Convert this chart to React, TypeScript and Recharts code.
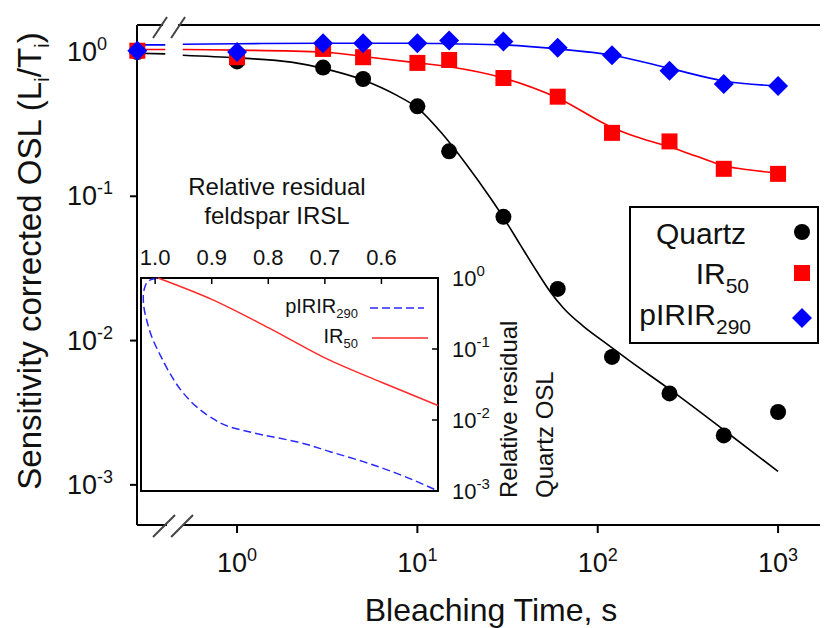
import React from "react";
import {
  ComposedChart,
  Line,
  Scatter,
  XAxis,
  YAxis,
  ReferenceLine,
  ReferenceArea,
} from "recharts";

const FONT = "'Liberation Sans', Arial, sans-serif";

// bleaching times (s); t = 0 is drawn at the axis break
const bleachTimes = [0, 1, 3, 5, 10, 15, 30, 60, 120, 250, 500, 1000];
const ZERO_AT = 0.28;

// measured points
const quartz = [1.0, 0.86, 0.78, 0.65, 0.42, 0.205, 0.072, 0.0228, 0.0077, 0.0043, 0.0022, 0.0032];
const ir50 = [1.02, 0.92, 1.05, 0.92, 0.84, 0.88, 0.66, 0.49, 0.275, 0.24, 0.155, 0.143];
const pirir290 = [1.02, 1.0, 1.15, 1.15, 1.15, 1.2, 1.18, 1.07, 0.95, 0.74, 0.6, 0.58];

// fitted curves (null = gap at the axis break)
const quartzFitT = [0.28, 0.4, 0.45, 0.5, 1, 2, 3, 5, 7.7, 10, 13.7, 18.7, 25.3, 30, 37, 46, 54.4, 64.3, 83, 107, 151, 250, 500, 1000];
const quartzFitV = [0.98, 0.97, null, 0.95, 0.91, 0.85, 0.77, 0.64, 0.5, 0.41, 0.272, 0.166, 0.098, 0.0713, 0.0466, 0.0301, 0.0219, 0.0169, 0.0126, 0.0099, 0.0072, 0.0046, 0.0024, 0.00124];
const ir50FitT = [0.28, 0.4, 0.45, 0.5, 1, 3, 5, 10, 15, 30, 60, 120, 170, 250, 350, 500, 700, 1000];
const ir50FitV = [1.04, 1.04, null, 1.04, 1.03, 1.0, 0.93, 0.84, 0.79, 0.66, 0.48, 0.3, 0.254, 0.22, 0.19, 0.163, 0.152, 0.145];
const piririFitT = [0.28, 0.4, 0.45, 0.5, 1, 3, 10, 15, 30, 60, 120, 250, 500, 1000];
const piririFitV = [1.12, 1.12, null, 1.13, 1.14, 1.15, 1.15, 1.14, 1.12, 1.05, 0.95, 0.77, 0.63, 0.58];

// inset: relative residual quartz OSL vs relative residual feldspar IRSL
const ir50InsetX = [0.995, 0.9, 0.8, 0.7, 0.6, 0.5];
const ir50InsetY = [1.0, 0.5, 0.2, 0.075, 0.034, 0.016];
const piririInsetX = [0.997, 1.009, 1.018, 1.021, 1.02, 1.015, 1.006, 0.991, 0.974, 0.95, 0.927, 0.903, 0.868, 0.809, 0.75, 0.691, 0.632, 0.573, 0.5];
const piririInsetY = [0.99, 0.937, 0.754, 0.545, 0.394, 0.256, 0.149, 0.082, 0.0455, 0.0238, 0.0154, 0.0111, 0.008, 0.00615, 0.00494, 0.00358, 0.00259, 0.00177, 0.001];

const xTicks = [1, 10, 100, 1000];
const yTicks = [1, 0.1, 0.01, 0.001];
const insetXTicks = [1.0, 0.9, 0.8, 0.7, 0.6];
const insetYTicks = [1, 0.1, 0.01, 0.001];

const X_MIN = 0.2788;
const X_MAX = 1708;
const Y_MIN = 0.000527;
const Y_MAX = 1.538;

const points = (vals: number[]) =>
  bleachTimes.map((t, i) => ({ t: t === 0 ? ZERO_AT : t, v: vals[i] }));
const curve = (ts: number[], vs: (number | null)[]) => ts.map((t, i) => ({ t, v: vs[i] }));
const insetCurve = (xs: number[], ys: number[]) => xs.map((f, i) => ({ f, q: ys[i] }));

const exp10 = (v: number) => {
  const e = Math.round(Math.log10(v));
  return e < 0 ? `-${-e}` : `${e}`;
};

const MainXTick = ({ x, payload }: any) => (
  <text x={x} y={572} textAnchor="middle" fontSize={27} fill="#111" fontFamily={FONT}>
    <tspan>10</tspan>
    <tspan dy={-11} fontSize={18}>{exp10(payload.value)}</tspan>
  </text>
);

const MainYTick = ({ y, payload }: any) => (
  <text x={67} y={y + 9} fontSize={27} fill="#111" fontFamily={FONT}>
    <tspan>10</tspan>
    <tspan dy={-11} fontSize={18}>{exp10(payload.value)}</tspan>
  </text>
);

const INSET_TOP = 108;
const INSET_RIGHT = 308;

const InsetTopTick = ({ x, payload }: any) => (
  <g>
    <line x1={x} x2={x} y1={INSET_TOP} y2={INSET_TOP + 6} stroke="#000" strokeWidth={1.5} />
    <text x={x} y={INSET_TOP - 13} textAnchor="middle" fontSize={22} fill="#111" fontFamily={FONT}>
      {payload.value.toFixed(1)}
    </text>
  </g>
);

const InsetRightTick = ({ y, payload }: any) => (
  <g>
    <line x1={INSET_RIGHT} x2={INSET_RIGHT - 6} y1={y} y2={y} stroke="#000" strokeWidth={1.5} />
    <text x={INSET_RIGHT + 14} y={y + 8} fontSize={22} fill="#111" fontFamily={FONT}>
      <tspan>10</tspan>
      <tspan dy={-10} fontSize={15}>{exp10(payload.value)}</tspan>
    </text>
  </g>
);

const circleShape = (p: any) => <circle cx={p.cx} cy={p.cy} r={8} fill="#000" />;
const squareShape = (p: any) => <rect x={p.cx - 8} y={p.cy - 8} width={16} height={16} fill="#ff0000" />;
const diamondShape = (p: any) => (
  <polygon
    points={`${p.cx},${p.cy - 10} ${p.cx + 10},${p.cy} ${p.cx},${p.cy + 10} ${p.cx - 10},${p.cy}`}
    fill="#0000ff"
  />
);

const frame = { stroke: "#000", strokeWidth: 2, ifOverflow: "visible" as const };
const slash = { stroke: "#444", strokeWidth: 2, ifOverflow: "visible" as const };

function MainChart() {
  return (
    <ComposedChart width={824} height={628} margin={{ top: 25, right: 4, bottom: 63, left: 77 }}>
      <XAxis
        dataKey="t"
        type="number"
        scale="log"
        domain={[X_MIN, X_MAX]}
        ticks={xTicks}
        height={40}
        axisLine={false}
        tickLine={{ stroke: "#000", strokeWidth: 2 }}
        tickSize={8}
        tick={MainXTick}
      />
      <YAxis
        dataKey="v"
        type="number"
        scale="log"
        domain={[Y_MIN, Y_MAX]}
        ticks={yTicks}
        width={60}
        axisLine={{ stroke: "#000", strokeWidth: 2 }}
        tickLine={{ stroke: "#000", strokeWidth: 2 }}
        tickSize={7}
        tick={MainYTick}
      />
      {/* top and bottom frame with the axis break */}
      <ReferenceLine segment={[{ x: X_MIN, y: Y_MIN }, { x: 0.409, y: Y_MIN }]} {...frame} />
      <ReferenceLine segment={[{ x: 0.502, y: Y_MIN }, { x: X_MAX, y: Y_MIN }]} {...frame} />
      <ReferenceLine segment={[{ x: X_MIN, y: Y_MAX }, { x: 0.389, y: Y_MAX }]} {...frame} />
      <ReferenceLine segment={[{ x: 0.471, y: Y_MAX }, { x: X_MAX, y: Y_MAX }]} {...frame} />
      <ReferenceLine segment={[{ x: 0.342, y: 0.000435 }, { x: 0.453, y: 0.000618 }]} {...slash} />
      <ReferenceLine segment={[{ x: 0.431, y: 0.000435 }, { x: 0.57, y: 0.000618 }]} {...slash} />
      <ReferenceLine segment={[{ x: 0.342, y: 1.25 }, { x: 0.409, y: 1.748 }]} {...slash} />
      <ReferenceLine segment={[{ x: 0.431, y: 1.25 }, { x: 0.515, y: 1.748 }]} {...slash} />

      <Line data={curve(quartzFitT, quartzFitV)} dataKey="v" type="monotone" stroke="#000" strokeWidth={1.6} dot={false} connectNulls={false} isAnimationActive={false} />
      <Line data={curve(ir50FitT, ir50FitV)} dataKey="v" type="monotone" stroke="#ff0000" strokeWidth={1.6} dot={false} connectNulls={false} isAnimationActive={false} />
      <Line data={curve(piririFitT, piririFitV)} dataKey="v" type="monotone" stroke="#0000ff" strokeWidth={1.6} dot={false} connectNulls={false} isAnimationActive={false} />

      <Scatter data={points(quartz)} dataKey="v" shape={circleShape} isAnimationActive={false} />
      <Scatter data={points(ir50)} dataKey="v" shape={squareShape} isAnimationActive={false} />
      <Scatter data={points(pirir290)} dataKey="v" shape={diamondShape} isAnimationActive={false} />
    </ComposedChart>
  );
}

function InsetChart() {
  return (
    <ComposedChart width={440} height={340} margin={{ top: 78, right: 92, bottom: 19, left: 11 }}>
      <XAxis
        dataKey="f"
        type="number"
        domain={[0.5, 1.025]}
        reversed
        orientation="top"
        height={30}
        ticks={insetXTicks}
        axisLine={false}
        tickLine={false}
        tick={InsetTopTick}
      />
      <YAxis
        dataKey="q"
        type="number"
        scale="log"
        domain={[0.001, 1]}
        orientation="right"
        width={40}
        ticks={insetYTicks}
        axisLine={false}
        tickLine={false}
        tick={InsetRightTick}
      />
      <ReferenceArea x1={0.5} x2={1.025} y1={0.001} y2={1} stroke="#000" strokeWidth={2} fill="#fff" fillOpacity={0} />
      <Line data={insetCurve(ir50InsetX, ir50InsetY)} dataKey="q" type="monotone" stroke="#ff2a2a" strokeWidth={1.5} dot={false} isAnimationActive={false} />
      <Line data={insetCurve(piririInsetX, piririInsetY)} dataKey="q" type="monotoneY" stroke="#2a2aff" strokeWidth={1.5} strokeDasharray="8 4" dot={false} isAnimationActive={false} />
    </ComposedChart>
  );
}

function Labels() {
  const t = { fontFamily: FONT, fill: "#111" };
  return (
    <svg width={824} height={628} style={{ position: "absolute", left: 0, top: 0, pointerEvents: "none" }}>
      <text {...t} fontSize={33} textAnchor="middle" transform="translate(41,261) rotate(-90)">
        Sensitivity corrected OSL (L<tspan dy={8} fontSize={21}>i</tspan>
        <tspan dy={-8}>/T</tspan>
        <tspan dy={8} fontSize={21}>i</tspan>
        <tspan dy={-8}>)</tspan>
      </text>
      <text {...t} fontSize={32} x={491} y={621} textAnchor="middle">Bleaching Time, s</text>

      {/* main legend */}
      <rect x={630} y={207} width={188} height={136} fill="#fff" stroke="#000" strokeWidth={2} />
      <text {...t} fontSize={30} x={746} y={244} textAnchor="end">Quartz</text>
      <text {...t} fontSize={30} x={749} y={284} textAnchor="end">
        IR<tspan dy={9} fontSize={21}>50</tspan>
      </text>
      <text {...t} fontSize={30} x={751} y={325} textAnchor="end">
        pIRIR<tspan dy={9} fontSize={21}>290</tspan>
      </text>
      <circle cx={802} cy={232} r={8} fill="#000" />
      <rect x={794} y={265} width={16} height={16} fill="#ff0000" />
      <polygon points="802,308 812,318 802,328 792,318" fill="#0000ff" />

      {/* inset labels */}
      <text {...t} fontSize={24} x={277} y={195} textAnchor="middle">Relative residual</text>
      <text {...t} fontSize={24} x={277} y={224} textAnchor="middle">feldspar IRSL</text>
      <text {...t} fontSize={24} transform="translate(517,498) rotate(-90)">Relative residual</text>
      <text {...t} fontSize={24} transform="translate(553,498) rotate(-90)">Quartz OSL</text>

      {/* inset legend */}
      <text {...t} fontSize={20} x={358} y={313} textAnchor="end">
        pIRIR<tspan dy={5} fontSize={13}>290</tspan>
      </text>
      <line x1={370} x2={424} y1={308} y2={308} stroke="#2a2aff" strokeWidth={1.5} strokeDasharray="8 4" />
      <text {...t} fontSize={20} x={358} y={343} textAnchor="end">
        IR<tspan dy={5} fontSize={13}>50</tspan>
      </text>
      <line x1={372} x2={428} y1={338} y2={338} stroke="#ff2a2a" strokeWidth={1.5} />
    </svg>
  );
}

export default function App() {
  return (
    <div style={{ position: "absolute", left: 0, top: 0, width: 824, height: 628, background: "#fff", fontFamily: FONT }}>
      <div style={{ position: "absolute", left: 0, top: 0 }}>
        <MainChart />
      </div>
      <div style={{ position: "absolute", left: 130, top: 170 }}>
        <InsetChart />
      </div>
      <Labels />
    </div>
  );
}
